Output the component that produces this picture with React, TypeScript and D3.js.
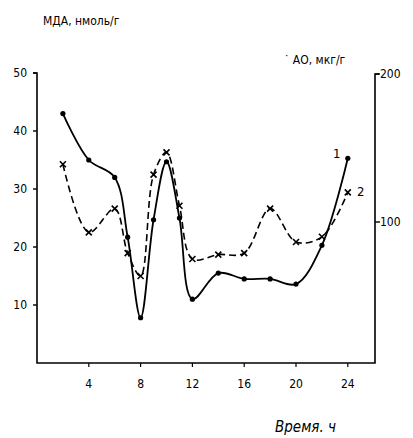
import { useEffect, useRef } from "react";
import * as d3 from "d3";

// hours of measurement
const hours = [2, 4, 6, 7, 8, 9, 10, 11, 12, 14, 16, 18, 20, 22, 24];
// curve 1: МДА, нмоль/г (left axis)
const mda = [43, 35, 32, 21.7, 7.8, 24.7, 34.7, 25, 11, 15.5, 14.5, 14.5, 13.6, 20.3, 35.3];
// curve 2: АО, мкг/г (right axis)
const ao = [139, 93, 109, 79, 63.5, 132, 147, 111, 75, 78, 79, 109, 86.5, 90, 120];

const xTicks = [4, 8, 12, 16, 20, 24];
const leftTicks = [10, 20, 30, 40, 50];
const rightTicks = [100, 200];

export default function App() {
  const ref = useRef<SVGSVGElement | null>(null);

  useEffect(() => {
    draw();
  }, []);

  function draw() {
    const svg = d3.select(ref.current);
    svg.selectAll("*").remove();

    const font = "'DejaVu Sans Condensed', 'DejaVu Sans', sans-serif";
    const left = 37, right = 375, bottom = 363, top = 73;

    const x = d3.scaleLinear().domain([0, 26.1]).range([left, right]);
    const yL = d3.scaleLinear().domain([0, 50]).range([bottom, top]);
    const yR = d3.scaleLinear().domain([0, 200]).range([370, 74]);

    // frame: left, bottom, right
    svg.append("path")
      .attr("d", `M${left - 4},${top}H${left}V${bottom}H${right}V${yR(200)}H${right + 4}`)
      .attr("fill", "none")
      .attr("stroke", "#000")
      .attr("stroke-width", 1.6);

    // left ticks
    svg.selectAll(".lt")
      .data(leftTicks)
      .enter()
      .append("line")
      .attr("x1", left - 4)
      .attr("x2", left)
      .attr("y1", d => yL(d))
      .attr("y2", d => yL(d))
      .attr("stroke", "#000")
      .attr("stroke-width", 1.4);

    svg.selectAll(".ll")
      .data(leftTicks)
      .enter()
      .append("text")
      .attr("x", 27)
      .attr("y", d => yL(d) + 4)
      .attr("text-anchor", "end")
      .attr("font-family", font)
      .attr("font-size", 12)
      .text(d => d);

    // right ticks
    svg.selectAll(".rt")
      .data(rightTicks)
      .enter()
      .append("line")
      .attr("x1", right)
      .attr("x2", right + 5)
      .attr("y1", d => yR(d))
      .attr("y2", d => yR(d))
      .attr("stroke", "#000")
      .attr("stroke-width", 1.4);

    svg.selectAll(".rl")
      .data(rightTicks)
      .enter()
      .append("text")
      .attr("x", right + 5)
      .attr("y", d => yR(d) + 4)
      .attr("font-family", font)
      .attr("font-size", 12)
      .text(d => d);

    // bottom ticks
    svg.selectAll(".bt")
      .data(xTicks)
      .enter()
      .append("line")
      .attr("x1", d => x(d))
      .attr("x2", d => x(d))
      .attr("y1", bottom)
      .attr("y2", bottom + 4)
      .attr("stroke", "#000")
      .attr("stroke-width", 1.2);

    svg.selectAll(".bl")
      .data(xTicks)
      .enter()
      .append("text")
      .attr("x", d => x(d))
      .attr("y", 388)
      .attr("text-anchor", "middle")
      .attr("font-family", font)
      .attr("font-size", 12)
      .text(d => d);

    const pts1 = hours.map((h, i) => [x(h), yL(mda[i])] as [number, number]);
    const pts2 = hours.map((h, i) => [x(h), yR(ao[i])] as [number, number]);
    const line = d3.line().curve(d3.curveCatmullRom.alpha(0.5));

    svg.append("path")
      .attr("d", line(pts2))
      .attr("fill", "none")
      .attr("stroke", "#000")
      .attr("stroke-width", 1.6)
      .attr("stroke-dasharray", "7,4");

    svg.append("path")
      .attr("d", line(pts1))
      .attr("fill", "none")
      .attr("stroke", "#000")
      .attr("stroke-width", 1.8);

    svg.selectAll(".dot")
      .data(pts1)
      .enter()
      .append("circle")
      .attr("cx", d => d[0])
      .attr("cy", d => d[1])
      .attr("r", 2.6)
      .attr("fill", "#000");

    svg.selectAll(".cross")
      .data(pts2)
      .enter()
      .append("path")
      .attr("d", d => `M${d[0] - 3},${d[1] - 3}L${d[0] + 3},${d[1] + 3}M${d[0] + 3},${d[1] - 3}L${d[0] - 3},${d[1] + 3}`)
      .attr("stroke", "#000")
      .attr("stroke-width", 1.6);

    // curve numbers
    svg.append("text").attr("x", 333).attr("y", 158).attr("font-family", font).attr("font-size", 13).text("1");
    svg.append("text").attr("x", 357).attr("y", 196).attr("font-family", font).attr("font-size", 13).text("2");

    // axis titles
    svg.append("text")
      .attr("x", 43)
      .attr("y", 25)
      .attr("font-family", font)
      .attr("font-size", 12)
      .text("МДА, нмоль/г");

    svg.append("text")
      .attr("x", 284)
      .attr("y", 64)
      .attr("font-family", font)
      .attr("font-size", 12)
      .text("˙ АО, мкг/г");

    svg.append("text")
      .attr("x", 275)
      .attr("y", 432)
      .attr("font-family", font)
      .attr("font-size", 15)
      .attr("font-style", "italic")
      .text("Время. ч");
  }

  return (
    <svg
      ref={ref}
      width={413}
      height={438}
      style={{ position: "absolute", left: 0, top: 0, background: "#fff" }}
    />
  );
}
